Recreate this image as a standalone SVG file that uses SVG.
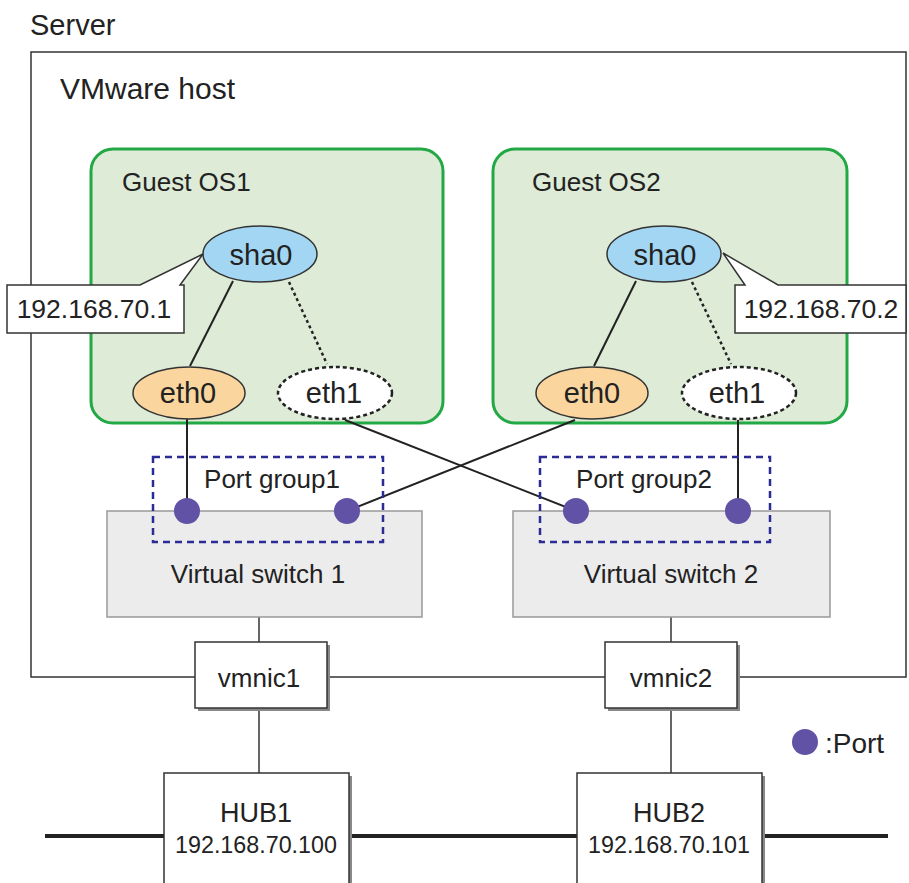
<svg xmlns="http://www.w3.org/2000/svg" width="909" height="883" viewBox="0 0 909 883">
<style>
text{font-family:"Liberation Sans",Arial,sans-serif;fill:#222}
.guest{fill:#ddebd7;stroke:#22a844;stroke-width:3}
.ln{stroke:#222;stroke-width:2;fill:none}
.thin{stroke:#333;stroke-width:1.5;fill:none}
.dot{stroke:#222;stroke-width:2.5;stroke-dasharray:3,3;fill:none}
.sha{fill:#a3d6f2;stroke:#333;stroke-width:1.5}
.eth0{fill:#fad59e;stroke:#333;stroke-width:1.5}
.eth1{fill:#fff;stroke:#222;stroke-width:2.5;stroke-dasharray:4,3}
.pg{fill:none;stroke:#2b2b96;stroke-width:2.5;stroke-dasharray:7,5}
.vs{fill:#ececec;stroke:#999;stroke-width:1.5}
.port{fill:#6152a6}
.box{fill:#fff;stroke:#333;stroke-width:1.5}
.shadow{fill:#888}
.callout{fill:#fff;stroke:#333;stroke-width:1.5}
.nic{font-size:29px;text-anchor:middle}
.mid{text-anchor:middle}
</style>
<text x="30" y="35" font-size="29">Server</text>
<g id="vmware-host">
<path class="thin" d="M195,677 H31 V52 H906 V677 H740 M329,677 H605"/>
<text x="60" y="99" font-size="30">VMware host</text>
</g>
<g id="guest-os1">
<rect class="guest" x="91" y="149" width="352" height="274" rx="22"/>
<text x="122" y="191" font-size="26">Guest OS1</text>
</g>
<g id="guest-os2">
<rect class="guest" x="493" y="149" width="354" height="274" rx="22"/>
<text x="532" y="191" font-size="26">Guest OS2</text>
</g>
<g id="connectors">
<line class="ln" x1="233" y1="281" x2="190" y2="366"/>
<line class="dot" x1="289" y1="282" x2="327" y2="364"/>
<line class="ln" x1="636" y1="281" x2="594" y2="366"/>
<line class="dot" x1="692" y1="282" x2="731" y2="364"/>
<line class="ln" x1="187" y1="419" x2="187" y2="511"/>
<line class="ln" x1="738" y1="420" x2="738" y2="511"/>
<line class="ln" x1="345" y1="420" x2="576" y2="511"/>
<line class="ln" x1="575" y1="420" x2="347" y2="511"/>
<line class="thin" x1="259" y1="617" x2="259" y2="642"/>
<line class="thin" x1="671" y1="617" x2="671" y2="642"/>
<line class="thin" x1="259" y1="708" x2="259" y2="773"/>
<line class="thin" x1="671" y1="708" x2="671" y2="773"/>
<line stroke="#222" stroke-width="4" x1="45" y1="836" x2="888" y2="836"/>
</g>
<g id="sha0-1">
<ellipse class="sha" cx="260" cy="254" rx="57" ry="28"/>
<text class="nic" x="261" y="265">sha0</text>
</g>
<g id="eth0-1">
<ellipse class="eth0" cx="189" cy="393" rx="56" ry="26"/>
<text class="nic" x="188" y="403">eth0</text>
</g>
<g id="eth1-1">
<ellipse class="eth1" cx="335" cy="393" rx="57" ry="26"/>
<text class="nic" x="334" y="403">eth1</text>
</g>
<g id="sha0-2">
<ellipse class="sha" cx="664" cy="254" rx="57" ry="28"/>
<text class="nic" x="665" y="265">sha0</text>
</g>
<g id="eth0-2">
<ellipse class="eth0" cx="592" cy="393" rx="56" ry="26"/>
<text class="nic" x="592" y="403">eth0</text>
</g>
<g id="eth1-2">
<ellipse class="eth1" cx="739" cy="393" rx="57" ry="26"/>
<text class="nic" x="737" y="403">eth1</text>
</g>
<g id="ip1">
<path class="callout" d="M7,285 H140 L203,254 L180,285 H184 V333 H7 Z"/>
<text class="mid" x="94" y="318" font-size="26.5">192.168.70.1</text>
</g>
<g id="ip2">
<path class="callout" d="M906,285 H778 L723,253 L745,285 H735 V333 H906 Z"/>
<text class="mid" x="821" y="318" font-size="26.5">192.168.70.2</text>
</g>
<g id="vswitch1">
<rect class="vs" x="107" y="511" width="315" height="106"/>
<text class="mid" x="258" y="583" font-size="26">Virtual switch 1</text>
</g>
<g id="vswitch2">
<rect class="vs" x="513" y="511" width="317" height="106"/>
<text class="mid" x="671" y="583" font-size="26">Virtual switch 2</text>
</g>
<g id="portgroup1">
<rect class="pg" x="153" y="457" width="230" height="85"/>
<text class="mid" x="272" y="488" font-size="26">Port group1</text>
<circle class="port" cx="187" cy="511" r="13"/>
<circle class="port" cx="347" cy="511" r="13"/>
</g>
<g id="portgroup2">
<rect class="pg" x="540" y="457" width="230" height="85"/>
<text class="mid" x="644" y="488" font-size="26">Port group2</text>
<circle class="port" cx="576" cy="511" r="13"/>
<circle class="port" cx="738" cy="511" r="13"/>
</g>
<g id="vmnic1">
<rect class="shadow" x="198" y="645" width="132" height="66"/>
<rect class="box" x="195" y="642" width="132" height="66"/>
<text class="mid" x="259" y="687" font-size="26">vmnic1</text>
</g>
<g id="vmnic2">
<rect class="shadow" x="608" y="645" width="132" height="66"/>
<rect class="box" x="605" y="642" width="132" height="66"/>
<text class="mid" x="671" y="687" font-size="26">vmnic2</text>
</g>
<g id="hub1">
<rect class="shadow" x="167" y="776" width="185" height="112"/>
<rect class="box" x="164" y="773" width="185" height="112"/>
<text class="mid" x="256" y="822" font-size="27">HUB1</text>
<text class="mid" x="256" y="853" font-size="23.3">192.168.70.100</text>
</g>
<g id="hub2">
<rect class="shadow" x="580" y="776" width="185" height="112"/>
<rect class="box" x="577" y="773" width="185" height="112"/>
<text class="mid" x="669" y="822" font-size="27">HUB2</text>
<text class="mid" x="669" y="853" font-size="23.3">192.168.70.101</text>
</g>
<g id="legend">
<circle class="port" cx="805" cy="742" r="13"/>
<text x="825" y="753" font-size="28">:Port</text>
</g>
</svg>
